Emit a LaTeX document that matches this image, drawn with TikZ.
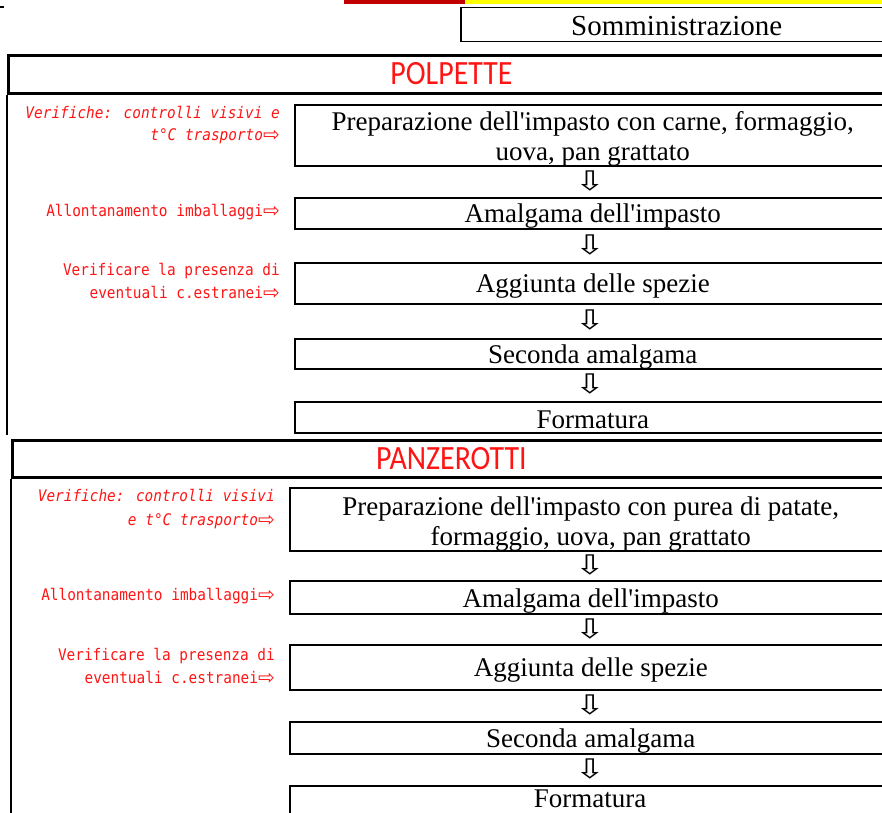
\documentclass[tikz,border=0pt]{standalone}
\usepackage{fontspec}
\setmainfont{Liberation Serif}[Ligatures=TeXOff]
\newfontfamily\lblfont[FakeStretch=0.9]{DejaVu Sans Mono}
\newfontfamily\headfont[FakeStretch=0.88]{Carlito}
\newfontfamily\arrfont{DejaVu Sans}
\definecolor{lblred}{RGB}{255,20,20}
\definecolor{barred}{RGB}{192,0,0}
\definecolor{baryellow}{RGB}{255,255,0}
\newcommand{\rarr}{{\arrfont\fontsize{20}{16}\selectfont\raisebox{-1pt}{⇨}}}
\begin{document}
\begin{tikzpicture}[x=1pt,y=-1pt,
  stepbox/.style={draw, line width=1.5pt, inner sep=0pt, anchor=north west},
  steptext/.style={inner sep=0pt, align=center, font=\fontsize{27}{30}\selectfont},
  headbox/.style={draw, line width=3pt, inner sep=0pt, anchor=north west,
    text=lblred, font=\headfont\fontsize{34}{34}\selectfont},
  lbl/.style={text=lblred, inner sep=0pt, anchor=east, align=right,
    font=\lblfont\fontsize{16}{22.5}\selectfont},
  downarr/.style={inner sep=0pt, xscale=1.35, font=\arrfont\fontsize{27}{27}\selectfont}]
\useasboundingbox (0,0) rectangle (882,812);
\clip (0,0) rectangle (882,812);
% top bars
\fill[barred] (344,0) rectangle (465,3.5);
\fill[baryellow] (465,0) rectangle (882,3.5);
\draw[line width=1.5pt] (0,7) -- (4,7);
% Somministrazione
\node[stepbox, minimum width=432pt, minimum height=34pt] (somm) at (460,6.5) {};
\node[steptext, font=\fontsize{29}{30}\selectfont] (sommt) at ([yshift=-2pt]somm.center) {Somministrazione};
% POLPETTE
\node[headbox, minimum width=886pt, minimum height=38pt] (polp) at (7,53.5) {POLPETTE};
\draw[line width=2pt] (polp.south west) -- ++(0,340.5) coordinate (polpend);
\node[stepbox, minimum width=596pt, minimum height=61pt] (p1) at (294,104) {};
\node[stepbox, minimum width=596pt, minimum height=31pt] (p2) at (294,197) {};
\node[stepbox, minimum width=596pt, minimum height=41pt] (p3) at (294,262) {};
\node[stepbox, minimum width=596pt, minimum height=30pt] (p4) at (294,338) {};
\node[stepbox, minimum width=596pt, minimum height=31pt] (p5) at (294,401) {};
\node[steptext] (p1t) at ([yshift=-4pt]p1.center) {Preparazione dell'impasto con carne, formaggio,\\uova, pan grattato};
\node[steptext] (p2t) at ([yshift=-3pt]p2.center) {Amalgama dell'impasto};
\node[steptext] (p3t) at ([yshift=-3pt]p3.center) {Aggiunta delle spezie};
\node[steptext] (p4t) at ([yshift=-3pt]p4.center) {Seconda amalgama};
\node[steptext] (p5t) at ([yshift=-3pt]p5.center) {Formatura};
\node[downarr] (pa1) at (590,181) {⇩};
\node[downarr] (pa2) at (590,245) {⇩};
\node[downarr] (pa3) at (590,320) {⇩};
\node[downarr] (pa4) at (590,384) {⇩};
\node[lbl, font=\lblfont\itshape\fontsize{16}{22.5}\selectfont] (pl1) at (280,125) {Verifiche: controlli visivi e\\t°C trasporto\rarr};
\node[lbl] (pl2) at (280,212) {Allontanamento imballaggi\rarr};
\node[lbl] (pl3) at (280,281.5) {Verificare la presenza di\\eventuali c.estranei\rarr};
% PANZEROTTI
\node[headbox, minimum width=878pt, minimum height=37.5pt] (panz) at (11,438.5) {PANZEROTTI};
\draw[line width=2pt] (panz.south west) -- ++(0,340) coordinate (panzend);
\node[stepbox, minimum width=602pt, minimum height=63pt] (z1) at (289,487) {};
\node[stepbox, minimum width=602pt, minimum height=33pt] (z2) at (289,580) {};
\node[stepbox, minimum width=602pt, minimum height=45pt] (z3) at (289,644) {};
\node[stepbox, minimum width=602pt, minimum height=32pt] (z4) at (289,721) {};
\node[stepbox, minimum width=602pt, minimum height=35pt] (z5) at (289,785) {};
\node[steptext] (z1t) at ([yshift=-4.5pt]z1.center) {Preparazione dell'impasto con purea di patate,\\formaggio, uova, pan grattato};
\node[steptext] (z2t) at ([yshift=-3.5pt]z2.center) {Amalgama dell'impasto};
\node[steptext] (z3t) at ([yshift=-3pt]z3.center) {Aggiunta delle spezie};
\node[steptext] (z4t) at ([yshift=-3pt]z4.center) {Seconda amalgama};
\node[steptext] (z5t) at (590,799) {Formatura};
\node[downarr] (za1) at (590,565) {⇩};
\node[downarr] (za2) at (590,629) {⇩};
\node[downarr] (za3) at (590,705) {⇩};
\node[downarr] (za4) at (590,769) {⇩};
\node[lbl, font=\lblfont\itshape\fontsize{16}{24}\selectfont] (zl1) at (275,509) {Verifiche: controlli visivi\\e t°C trasporto\rarr};
\node[lbl] (zl2) at (275,596) {Allontanamento imballaggi\rarr};
\node[lbl] (zl3) at (275,666.5) {Verificare la presenza di\\eventuali c.estranei\rarr};
\end{tikzpicture}
\end{document}
